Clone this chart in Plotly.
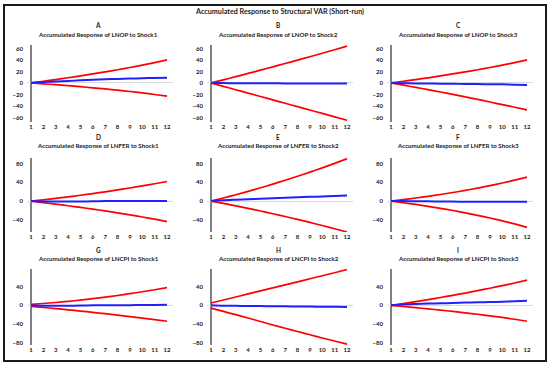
import plotly.graph_objects as go

W, H = 550, 365

periods = list(range(1, 13))
x_tick_labels = [str(p) for p in periods]

# Panel A: LNOP to Shock1
upper_A = [0, 2.8, 5.8, 9, 12.3, 15.7, 19.2, 22.9, 26.8, 30.9, 35.3, 40]
resp_A = [0, 1.5, 2.5, 3.5, 4.5, 5.5, 6.3, 7, 7.6, 8.1, 8.6, 9]
lower_A = [0, -1.5, -3.1, -4.8, -6.6, -8.5, -10.5, -12.6, -14.9, -17.4, -20.1, -23]
# Panel B: LNOP to Shock2
upper_B = [0, 5.4, 10.9, 16.5, 22.2, 28, 33.8, 39.7, 45.6, 51.6, 57.7, 64]
resp_B = [0, -0.3, -0.5, -0.5, -0.6, -0.7, -0.8, -0.8, -0.9, -1, -1, -1]
lower_B = [0, -5.9, -11.8, -17.7, -23.6, -29.5, -35.4, -41.3, -47.2, -53.1, -59, -65]
# Panel C: LNOP to Shock3
upper_C = [0, 2.8, 5.8, 8.9, 12.2, 15.6, 19.2, 22.9, 26.8, 30.9, 35.3, 40]
resp_C = [0, -0.5, -0.8, -1, -1.3, -1.5, -1.8, -2, -2.2, -2.5, -3, -3.5]
lower_C = [0, -3.8, -7.7, -11.7, -15.8, -20, -24.3, -28.7, -33.2, -37.7, -42.3, -47]
# Panel D: LNFER to Shock1
upper_D = [0, 2.8, 5.8, 9, 12.4, 16, 19.8, 23.8, 28, 32.4, 37, 41.8]
resp_D = [0, -1, -1, -1, -1, -0.5, 0, 0, 0, 0, 0, 0]
lower_D = [0, -3.2, -6.5, -9.9, -13.4, -17.1, -21, -25.1, -29.4, -33.9, -38.7, -43.8]
# Panel E: LNFER to Shock2
upper_E = [0, 6.5, 13.5, 20.8, 28.4, 36.3, 44.5, 53, 61.8, 71, 80.6, 90.6]
resp_E = [0, 2, 3, 4, 5, 6, 7, 8, 9, 10, 11, 12]
lower_E = [0, -5, -10.2, -15.6, -21.2, -27, -33, -39.2, -45.6, -52.2, -59, -66]
# Panel F: LNFER to Shock3
upper_F = [0, 3.2, 6.6, 10.2, 14.1, 18.3, 22.8, 27.7, 33, 38.6, 44.6, 51]
resp_F = [0, 0, -0.5, -0.5, -1, -1, -1.5, -1.5, -1.5, -1.5, -1.5, -1.5]
lower_F = [0, -3.5, -7.2, -11.2, -15.5, -20.1, -25.1, -30.4, -36.1, -42.2, -48.8, -56]
# Panel G: LNCPI to Shock1
upper_G = [2, 4, 6.2, 8.6, 11.3, 14.3, 17.6, 21.2, 25.1, 29.2, 33.5, 38]
resp_G = [0, -1, -1, -1, -0.5, 0, 0, 0.5, 0.5, 1, 1, 1.5]
lower_G = [-2, -4.4, -6.9, -9.5, -12.2, -15, -17.9, -20.9, -24, -27.2, -30.5, -34]
# Panel H: LNCPI to Shock2
upper_H = [5, 11.5, 18, 24.5, 31, 37.5, 44, 50.5, 57, 63.5, 70, 77]
resp_H = [0, -1, -1, -1.5, -1.5, -2, -2, -2.5, -2.5, -3, -3, -3.5]
lower_H = [-6, -13, -20, -27, -34.5, -42, -49, -56, -63, -70, -76.5, -83]
# Panel I: LNCPI to Shock3
upper_I = [0, 3.9, 8, 12.3, 16.8, 21.5, 26.4, 31.5, 36.8, 42.3, 48, 54]
resp_I = [0, 2, 3, 4, 4.5, 5, 6, 6.5, 7, 8, 9, 10]
lower_I = [0, -2.4, -4.9, -7.5, -10.2, -13, -16, -19.1, -22.4, -25.9, -29.7, -34]

letters = ["A", "B", "C", "D", "E", "F", "G", "H", "I"]
titles = [
    "Accumulated Response of LNOP to Shock1",
    "Accumulated Response of LNOP to Shock2",
    "Accumulated Response of LNOP to Shock3",
    "Accumulated Response of LNFER to Shock1",
    "Accumulated Response of LNFER to Shock2",
    "Accumulated Response of LNFER to Shock3",
    "Accumulated Response of LNCPI to Shock1",
    "Accumulated Response of LNCPI to Shock2",
    "Accumulated Response of LNCPI to Shock3",
]
uppers = [upper_A, upper_B, upper_C, upper_D, upper_E, upper_F, upper_G, upper_H, upper_I]
resps = [resp_A, resp_B, resp_C, resp_D, resp_E, resp_F, resp_G, resp_H, resp_I]
lowers = [lower_A, lower_B, lower_C, lower_D, lower_E, lower_F, lower_G, lower_H, lower_I]

row_tickvals = [[60, 40, 20, 0, -20, -40, -60], [80, 40, 0, -40], [40, 0, -40, -80]]
row_ranges = [[-68, 66], [-66, 92], [-85, 78]]
row_dom_px = [(45, 122), (158, 232), (269, 345)]
row_letter_y = [25, 137, 250]
row_sub_y = [34, 145, 258]

# pixel positions of x=1 for each column; x=12 is 136 px to the right
col_x1 = [31, 211, 391]
px_per_unit = 136 / 11.0
xr = [1 - 4 / px_per_unit, 12 + 6 / px_per_unit]

FONT = "Lato"

fig = go.Figure()
shapes = []
annotations = []

for i in range(9):
    r, c = divmod(i, 3)
    n = i + 1
    xa = "x" if n == 1 else f"x{n}"
    ya = "y" if n == 1 else f"y{n}"
    left_px = col_x1[c] - 4
    right_px = col_x1[c] + 136 + 6
    top_px, bot_px = row_dom_px[r]

    for ys, col, wd in ((uppers[i], "#FF0000", 1.7), (lowers[i], "#FF0000", 1.7),
                        (resps[i], "#2020FF", 2)):
        fig.add_trace(go.Scatter(x=periods, y=ys, mode="lines",
                                 line=dict(color=col, width=wd, shape="spline", smoothing=0.6),
                                 xaxis=xa, yaxis=ya, showlegend=False, hoverinfo="skip"))

    fig.layout[f"xaxis{'' if n == 1 else n}"] = dict(
        domain=[left_px / W, right_px / W], anchor=ya, range=xr,
        tickmode="array", tickvals=periods, ticktext=x_tick_labels,
        showgrid=False, zeroline=False, showline=False, ticks="",
        tickfont=dict(family=FONT, size=6, color="#222", weight="bold"),
        ticklabelstandoff=0, fixedrange=True)
    fig.layout[f"yaxis{'' if n == 1 else n}"] = dict(
        domain=[1 - bot_px / H, 1 - top_px / H], anchor=xa, range=row_ranges[r],
        tickmode="array", tickvals=row_tickvals[r],
        showgrid=False, zeroline=True, zerolinecolor="#D9D9D9", zerolinewidth=1,
        showline=False, ticks="",
        tickfont=dict(family=FONT, size=6, color="#222", weight="bold"),
        ticklabelstandoff=3, fixedrange=True)

    # vertical axis line at x = 1
    shapes.append(dict(type="line", xref=xa, yref=f"{ya} domain", x0=1, x1=1, y0=0, y1=1,
                       line=dict(color="#7F7F7F", width=2), layer="below"))

    cx = (col_x1[c] + 136 / 2 - 1) / W
    annotations.append(dict(text=letters[i], xref="paper", yref="paper", x=cx,
                            y=1 - row_letter_y[r] / H, showarrow=False,
                            font=dict(family=FONT, size=6.5, color="#222", weight="bold"),
                            xanchor="center", yanchor="middle"))
    annotations.append(dict(text=titles[i], xref="paper", yref="paper", x=cx,
                            y=1 - row_sub_y[r] / H, showarrow=False,
                            font=dict(family=FONT, size=6.2, color="#222", weight="bold"),
                            xanchor="center", yanchor="middle"))

annotations.append(dict(text="Accumulated Response to Structural VAR (Short-run)",
                        xref="paper", yref="paper", x=280 / W, y=1 - 12 / H,
                        showarrow=False, xanchor="center", yanchor="middle",
                        font=dict(family=FONT, size=7.2, color="#222", weight="bold")))

shapes.append(dict(type="rect", xref="paper", yref="paper",
                   x0=4 / W, x1=546 / W, y0=1 - 361 / H, y1=1 - 5 / H,
                   line=dict(color="#1a1a1a", width=2)))

fig.update_layout(width=W, height=H, margin=dict(l=0, r=0, t=0, b=0),
                  paper_bgcolor="white", plot_bgcolor="white",
                  shapes=shapes, annotations=annotations,
                  font=dict(family=FONT))

fig.write_html("out.html", config={"displayModeBar": False},
               post_script="document.body.style.margin='0px';document.body.style.overflow='hidden';")
